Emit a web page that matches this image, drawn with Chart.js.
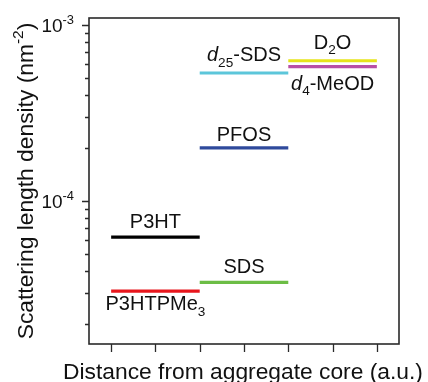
<!DOCTYPE html>
<html>
<head>
<meta charset="utf-8">
<script src="https://cdn.jsdelivr.net/npm/chart.js@4.4.1/dist/chart.umd.min.js"></script>
<style>
    html, body { margin: 0; padding: 0; background: #fff; }
    canvas { display: block; }
</style>
</head>
<body>
<canvas id="sldChart" width="428" height="382"></canvas>
<script>
// Data
const seriesNames = ['P3HT', 'P3HTPMe_3', 'SDS', 'PFOS', '*d*_25-SDS', 'D_2O', '*d*_4-MeOD'];
const seriesValues = [6.2e-5, 3.06e-5, 3.43e-5, 2.0e-4, 5.33e-4, 6.26e-4, 5.79e-4];
const segmentStart = [0, 0, 2, 2, 2, 4, 4];
const segmentEnd = [2, 2, 4, 4, 4, 6, 6];
const xTickValues = [0, 1, 2, 3, 4, 5, 6];
const yTickValues = [2e-5, 3e-5, 4e-5, 5e-5, 6e-5, 7e-5, 8e-5, 9e-5,
                     1e-4, 2e-4, 3e-4, 4e-4, 5e-4, 6e-4, 7e-4, 8e-4, 9e-4, 1e-3];
const yLabelValues = [1e-4, 1e-3];

// Styles
const lineColors = ['#000000', '#e8161c', '#6cbd45', '#2f4a9c', '#5cc6da', '#e6e41a', '#b84fa5'];
// label cap-centre offset from its line, in px (negative = above)
const labelOffsets = [-16, 12, -17, -14, -19, -19, 16];
const fontFamily = '"Liberation Sans", Arial, Helvetica, sans-serif';
const axisColor = '#2a2a2a';

// draw text with *italic*, _sub and ^sup runs
function drawRich(ctx, str, x, y, size, align) {
    const segs = [];
    const re = /\*([^*]+)\*|_(\d+)|\^(-?\d+)|([^*_^]+)/g;
    let m;
    while ((m = re.exec(str))) {
        if (m[1]) segs.push({ t: m[1], italic: true, shift: 0, scale: 1 });
        else if (m[2]) segs.push({ t: m[2], shift: 0.27, scale: 0.68 });
        else if (m[3]) segs.push({ t: m[3], shift: -0.42, scale: 0.68 });
        else segs.push({ t: m[4], shift: 0, scale: 1 });
    }
    let total = 0;
    segs.forEach(s => {
        s.font = `${s.italic ? 'italic ' : ''}${(size * s.scale).toFixed(1)}px ${fontFamily}`;
        ctx.font = s.font;
        s.w = ctx.measureText(s.t).width;
        total += s.w;
    });
    let cx = align === 'center' ? x - total / 2 : align === 'right' ? x - total : x;
    ctx.textAlign = 'left';
    ctx.textBaseline = 'alphabetic';
    segs.forEach(s => {
        ctx.font = s.font;
        ctx.fillText(s.t, cx, y + s.shift * size);
        cx += s.w;
    });
}

const framePlugin = {
    id: 'frame',
    afterDraw(chart) {
        const ctx = chart.ctx;
        const area = chart.chartArea;
        const xs = chart.scales.x;
        const ys = chart.scales.y;
        ctx.save();

        // box round the plot
        ctx.strokeStyle = axisColor;
        ctx.lineWidth = 1.6;
        ctx.strokeRect(area.left, area.top, area.right - area.left, area.bottom - area.top);

        // y ticks (outward)
        ctx.lineWidth = 1.3;
        ctx.beginPath();
        yTickValues.forEach(v => {
            const py = Math.round(ys.getPixelForValue(v)) + 0.5;
            const len = yLabelValues.includes(v) ? 7 : 4;
            ctx.moveTo(area.left, py);
            ctx.lineTo(area.left - len, py);
        });
        // x ticks (outward)
        xTickValues.forEach(v => {
            const px = Math.round(xs.getPixelForValue(v)) + 0.5;
            ctx.moveTo(px, area.bottom);
            ctx.lineTo(px, area.bottom + 8);
        });
        ctx.stroke();

        ctx.fillStyle = '#111';
        // y tick labels as powers of ten
        yLabelValues.forEach(v => {
            const py = ys.getPixelForValue(v);
            const exp = Math.round(Math.log10(v));
            drawRich(ctx, '10^' + exp, area.left - 15, py + 6.8, 19, 'right');
        });

        // series labels
        chart.data.datasets.forEach((ds, i) => {
            const mid = (segmentStart[i] + segmentEnd[i]) / 2;
            const px = xs.getPixelForValue(mid);
            const py = ys.getPixelForValue(seriesValues[i]) + labelOffsets[i];
            drawRich(ctx, seriesNames[i], px, py + 7.2, 20, 'center');
        });

        // axis titles
        drawRich(ctx, 'Distance from aggregate core (a.u.)', 243, 378.5, 22.8, 'center');
        ctx.translate(33, 181);
        ctx.rotate(-Math.PI / 2);
        drawRich(ctx, 'Scattering length density (nm^-2)', 0, 0, 22.8, 'center');
        ctx.restore();
    }
};

new Chart(document.getElementById('sldChart'), {
    type: 'line',
    data: {
        datasets: seriesNames.map((name, i) => ({
            label: name,
            data: [
                { x: segmentStart[i], y: seriesValues[i] },
                { x: segmentEnd[i], y: seriesValues[i] }
            ],
            borderColor: lineColors[i],
            borderWidth: 3.2,
            pointRadius: 0,
            tension: 0
        }))
    },
    options: {
        responsive: false,
        animation: false,
        events: [],
        layout: { padding: { top: 18, right: 29, left: 0, bottom: 0 } },
        plugins: {
            legend: { display: false },
            tooltip: { enabled: false }
        },
        scales: {
            x: {
                type: 'linear',
                min: -0.5,
                max: 6.5,
                grid: { display: false },
                border: { display: false },
                ticks: { display: false },
                afterBuildTicks(scale) { scale.ticks = xTickValues.map(v => ({ value: v })); },
                afterFit(scale) { scale.height = 38; }
            },
            y: {
                type: 'logarithmic',
                min: 1.53e-5,
                max: 1.096e-3,
                grid: { display: false },
                border: { display: false },
                ticks: { display: false },
                afterBuildTicks(scale) { scale.ticks = yTickValues.map(v => ({ value: v })); },
                afterFit(scale) { scale.width = 89; }
            }
        }
    },
    plugins: [framePlugin]
});
</script>
</body>
</html>
